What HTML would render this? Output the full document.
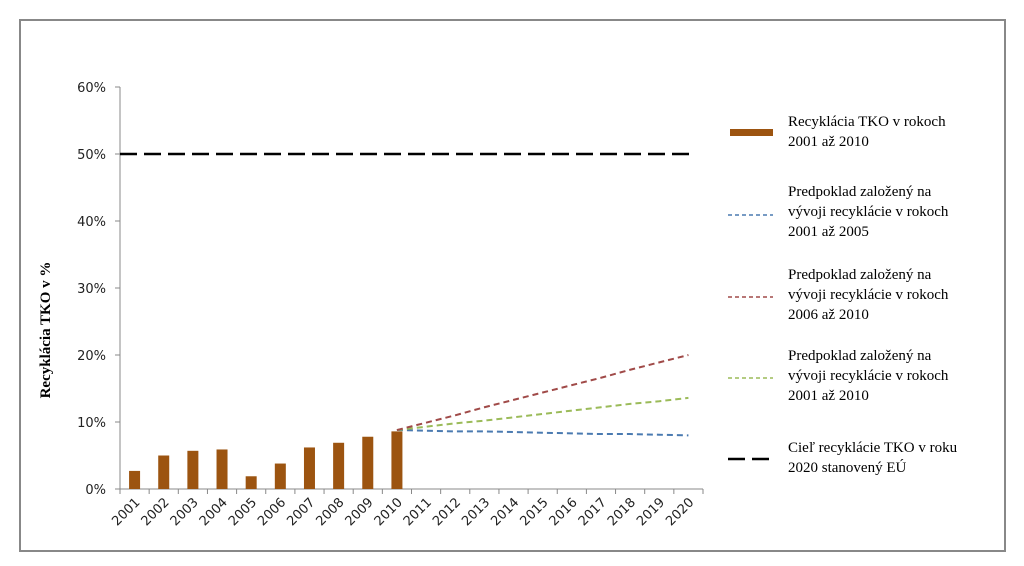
<!DOCTYPE html>
<html><head><meta charset="utf-8"><style>
body{margin:0;background:#fff;width:1024px;height:566px;overflow:hidden}
svg{display:block}
</style></head><body>
<svg id="c" width="1024" height="566" xmlns="http://www.w3.org/2000/svg">
<rect x="20" y="20" width="985" height="531" fill="#fff" stroke="#888" stroke-width="2"/>
<text transform="translate(50,330) rotate(-90)" text-anchor="middle" font-family="Liberation Serif, serif" font-weight="bold" font-size="15">Recyklácia TKO v %</text>
<g id="plot"></g>
<g id="legend" font-family="Liberation Serif, serif" font-size="15" fill="#000">
<g>
<rect x="730" y="129" width="43" height="7" fill="#9c5410"/>
<text x="788" y="126">Recyklácia TKO v rokoch</text><text x="788" y="146">2001 až 2010</text></g>
<g>
<line x1="728" y1="215" x2="773" y2="215" stroke="#4a7ab0" stroke-width="1.5" stroke-dasharray="4,3"/>
<text x="788" y="196">Predpoklad založený na</text><text x="788" y="216">vývoji recyklácie v rokoch</text><text x="788" y="236">2001 až 2005</text></g>
<g>
<line x1="728" y1="297" x2="773" y2="297" stroke="#a04a48" stroke-width="1.5" stroke-dasharray="4,3"/>
<text x="788" y="279">Predpoklad založený na</text><text x="788" y="299">vývoji recyklácie v rokoch</text><text x="788" y="319">2006 až 2010</text></g>
<g>
<line x1="728" y1="378" x2="773" y2="378" stroke="#9bbb59" stroke-width="1.5" stroke-dasharray="4,3"/>
<text x="788" y="360">Predpoklad založený na</text><text x="788" y="380">vývoji recyklácie v rokoch</text><text x="788" y="400">2001 až 2010</text></g>
<g>
<line x1="728" y1="459" x2="773" y2="459" stroke="#000" stroke-width="2.5" stroke-dasharray="17,7"/>
<text x="788" y="452">Cieľ recyklácie TKO v roku</text><text x="788" y="472">2020 stanovený EÚ</text></g>
</g>
</svg>
<script>
const years=["2001","2002","2003","2004","2005","2006","2007","2008","2009","2010","2011","2012","2013","2014","2015","2016","2017","2018","2019","2020"];
const barValues=[2.7,5.0,5.7,5.9,1.9,3.8,6.2,6.9,7.8,8.6];
const projYears=["2010","2011","2012","2013","2014","2015","2016","2017","2018","2019","2020"];
const blueValues=[8.8,8.7,8.6,8.6,8.5,8.4,8.3,8.2,8.2,8.1,8.0];
const redValues=[8.8,9.9,11.0,12.2,13.3,14.4,15.5,16.6,17.8,18.9,20.0];
const greenValues=[8.8,9.3,9.8,10.2,10.7,11.2,11.7,12.2,12.7,13.1,13.6];
const targetValue=50;
const yTicks=[0,10,20,30,40,50,60];
const NS="http://www.w3.org/2000/svg";
const X0=120,X1=703,Y0=489,Y1=87;
const bw=(X1-X0)/years.length;
const xc=y=>X0+bw*(years.indexOf(y)+0.5);
const ys=v=>Y0-(v/60)*(Y0-Y1);
const g=document.getElementById('plot');
function mk(t,a,p){const e=document.createElementNS(NS,t);for(const k in a)e.setAttribute(k,a[k]);(p||g).appendChild(e);return e;}
// axes
let ax=mk('line',{x1:X0,y1:Y1,x2:X0,y2:Y0,stroke:'#888'});


let bx=mk('line',{x1:X0,y1:Y0,x2:X1,y2:Y0,stroke:'#888'});


yTicks.forEach(v=>{
  mk('line',{x1:X0-5,y1:ys(v),x2:X0,y2:ys(v),stroke:'#888'});
  const t=mk('text',{x:X0-14,y:ys(v)+5,'text-anchor':'end','font-family':'DejaVu Sans, sans-serif','font-size':'13',fill:'#222'});
  t.textContent=v+'%';
  
  
});
for(let i=0;i<=years.length;i++){mk('line',{x1:X0+bw*i,y1:Y0,x2:X0+bw*i,y2:Y0+5,stroke:'#888'});}
years.forEach(y=>{
  const x=xc(y);
  const t=mk('text',{transform:`translate(${x+6},${Y0+14}) rotate(-45)`,'text-anchor':'end','font-family':'DejaVu Sans, sans-serif','font-size':'13',fill:'#222'});
  t.textContent=y;
  
  
});
// bars
barValues.forEach((v,i)=>{
  const x=xc(years[i]);
  const r=mk('rect',{x:x-5.5,y:ys(v),width:11,height:Y0-ys(v),fill:'#9c5410'});
  
  
});
// target
const tl=mk('line',{x1:X0,y1:ys(targetValue),x2:xc('2020')+3,y2:ys(targetValue),stroke:'#000','stroke-width':2.5,'stroke-dasharray':'17,7'});


function line(vals,col,name){
  const pts=vals.map((v,i)=>xc(projYears[i])+','+ys(v)).join(' ');
  const p=mk('polyline',{points:pts,fill:'none',stroke:col,'stroke-width':2,'stroke-dasharray':'6,4'});
  
  
}
line(blueValues,'#4a7ab0','projection-2001-2005');
line(greenValues,'#9bbb59','projection-2001-2010');
line(redValues,'#a04a48','projection-2006-2010');
</script>
</body></html>
